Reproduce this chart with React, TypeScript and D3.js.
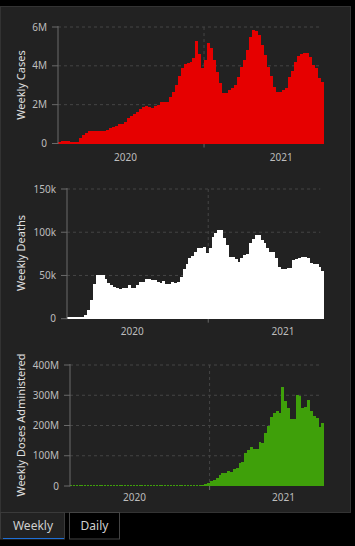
import React from "react";
import * as d3 from "d3";

// ---- data ----
const weekStart = Date.UTC(2020, 0, 25);
const weekCount = 89;
const weeks: Date[] = d3.range(weekCount).map((i) => d3.utcDay.offset(new Date(weekStart), i * 7));

// weekly cases (millions)
const casesM = [
  0.01, 0.12, 0.13, 0.12, 0.03, 0.03, 0.05, 0.28, 0.45, 0.55,
  0.62, 0.64, 0.64, 0.63, 0.64, 0.65, 0.7, 0.82, 0.85, 0.9,
  0.98, 1.02, 1.12, 1.3, 1.4, 1.5, 1.64, 1.8, 1.9, 1.92,
  1.9, 1.85, 1.95, 2.0, 2.15, 2.15, 2.16, 2.38, 2.65, 3.0,
  3.5, 3.9, 4.1, 4.15, 4.2, 4.4, 5.3, 4.6, 3.9, 4.3,
  5.2, 4.9, 4.3, 3.7, 3.1, 2.6, 2.62, 2.75, 2.84, 3.0,
  3.44, 3.95, 4.3, 4.8, 5.5, 5.85, 5.8, 5.6, 5.07, 4.56,
  3.95, 3.5, 2.9, 2.65, 2.65, 2.75, 2.84, 3.4, 3.75, 4.2,
  4.5, 4.6, 4.68, 4.68, 4.47, 4.04, 3.87, 3.36, 3.18,
];

// weekly deaths (thousands)
const deathsK = [
  0.5, 0.5, 2.2, 2.3, 2.3, 2.3, 3.9, 10, 22, 40,
  50, 51, 50, 46, 41, 39, 37, 35, 34, 35,
  35, 38.6, 36, 36, 39, 43, 43, 46, 46, 45,
  44.5, 42, 41, 44, 40.5, 40.5, 42, 41, 43, 48.6,
  58, 63, 70, 73, 77.6, 81.5, 82, 83.3, 75.7, 81.5,
  94, 99, 102.7, 102.7, 93, 85.3, 71, 71, 69, 66,
  70, 73.7, 75, 88, 92, 97, 97, 91, 87, 81.5,
  77.6, 77, 70, 60, 57, 57, 58.3, 58.3, 68, 68.7,
  70.6, 71, 71, 70, 64.8, 63, 63, 60, 55.5,
];

// weekly doses administered (millions)
const dosesM = [
  0, 0, 0, 0, 0, 0, 0, 0, 0, 0,
  0, 0, 0, 0, 0, 0, 0, 0, 0, 0,
  0, 0, 0, 0, 0, 0, 0, 0, 0, 0,
  0, 0, 0, 0, 0, 0, 0, 0, 0, 0,
  0, 0, 0, 0, 0, 0, 3, 7, 11, 16,
  21, 27, 36, 42, 42, 50, 47, 55, 58, 75,
  78, 108, 119, 130, 122, 121, 147, 141, 174, 199,
  229, 240, 248, 240, 328, 281, 259, 221, 221, 301,
  297, 258, 262, 283, 248, 233, 225, 195, 207,
];

const casesTicks = [0, 2, 4, 6];
const casesTickLabels = ["0", "2M", "4M", "6M"];
const deathsTicks = [0, 50, 100, 150];
const deathsTickLabels = ["0", "50k", "100k", "150k"];
const dosesTicks = [0, 100, 200, 300, 400];
const dosesTickLabels = ["0", "100M", "200M", "300M", "400M"];

const yearLabels = ["2020", "2021"];
const yearLabelDates = [new Date(Date.UTC(2020, 6, 1)), new Date(Date.UTC(2021, 6, 1))];
const gridDates = [new Date(Date.UTC(2021, 0, 1))];

const FONT = "'Segoe UI', 'Noto Sans', 'Open Sans', sans-serif";

type ChartProps = {
  values: number[];
  ticks: number[];
  tickLabels: string[];
  left: number;
  right: number;
  top: number;
  bottom: number;
  color: string;
  seam: string;
  title: string;
  titleY: number;
  labelY: number;
  dotted?: boolean;
};

function BarChart(p: ChartProps) {
  const x = d3
    .scaleUtc()
    .domain([weeks[0], d3.utcDay.offset(weeks[weeks.length - 1], 7)])
    .range([p.left, p.right]);
  const yMax = p.ticks[p.ticks.length - 1];
  const y = d3.scaleLinear().domain([0, yMax]).range([p.bottom, p.top]);
  const gridRight = p.right - 4;
  return (
    <g>
      {p.ticks.slice(1).map((t) => (
        <line
          key={"g" + t}
          x1={p.left}
          x2={gridRight}
          y1={y(t)}
          y2={y(t)}
          stroke="#454545"
          strokeWidth={1}
          strokeDasharray="3,3"
        />
      ))}
      {gridDates.map((d, i) => (
        <g key={"v" + i}>
          <line
            x1={x(d)}
            x2={x(d)}
            y1={p.top}
            y2={p.bottom}
            stroke="#454545"
            strokeWidth={1}
            strokeDasharray="3,3"
          />
          <line x1={x(d)} x2={x(d)} y1={p.bottom} y2={p.bottom + 4} stroke="#666" />
        </g>
      ))}
      <g shapeRendering="crispEdges">
        {p.values.map((v, i) => {
          const x0 = x(weeks[i]);
          const x1 = x(d3.utcDay.offset(weeks[i], 7));
          const h = Math.max(y(0) - y(v), 1.5);
          const zero = v === 0;
          return (
            <rect
              key={i}
              x={x0}
              y={y(0) - h}
              width={zero && p.dotted ? (x1 - x0) * 0.7 : x1 - x0}
              height={h}
              fill={p.color}
            />
          );
        })}
      </g>
      <line x1={p.left} x2={p.left} y1={p.top - 1} y2={p.bottom + 0.5} stroke="#6a6a6a" />
      {p.ticks.map((t, i) => (
        <g key={"t" + t}>
          <line x1={p.left - 6} x2={p.left} y1={y(t)} y2={y(t)} stroke="#6a6a6a" />
          <text
            x={p.left - 11}
            y={y(t)}
            dy="0.35em"
            textAnchor="end"
            fill="#bdbdbd"
            fontSize={10}
            fontFamily={FONT}
          >
            {p.tickLabels[i]}
          </text>
        </g>
      ))}
      {yearLabels.map((l, i) => (
        <text
          key={l}
          x={x(yearLabelDates[i])}
          y={p.labelY}
          dy="0.35em"
          textAnchor="middle"
          fill="#bdbdbd"
          fontSize={10}
          fontFamily={FONT}
        >
          {l}
        </text>
      ))}
      <text
        transform={`translate(21,${p.titleY}) rotate(-90)`}
        textAnchor="middle"
        dy="0.35em"
        fill="#e0e0e0"
        fontSize={11}
        fontFamily={FONT}
      >
        {p.title}
      </text>
    </g>
  );
}

export default function App() {
  return (
    <svg
      width={355}
      height={546}
      style={{ position: "absolute", left: 0, top: 0, display: "block" }}
    >
      <rect x={0} y={0} width={355} height={546} fill="#000" />
      <rect x={0.5} y={6.5} width={350} height={506} fill="#222" stroke="#333" />
      <BarChart
        values={casesM}
        ticks={casesTicks}
        tickLabels={casesTickLabels}
        left={58}
        right={324}
        top={27}
        bottom={143.5}
        color="#e60000"
        seam="#b00000"
        title="Weekly Cases"
        titleY={85}
        labelY={157}
      />
      <BarChart
        values={deathsK}
        ticks={deathsTicks}
        tickLabels={deathsTickLabels}
        left={67}
        right={324.3}
        top={189}
        bottom={318.7}
        color="#ffffff"
        seam="#bbbbbb"
        title="Weekly Deaths"
        titleY={253}
        labelY={331.5}
        dotted
      />
      <BarChart
        values={dosesM}
        ticks={dosesTicks}
        tickLabels={dosesTickLabels}
        left={70}
        right={324.3}
        top={365}
        bottom={486}
        color="#3fa00a"
        seam="#2f7d08"
        title="Weekly Doses Administered"
        titleY={425}
        labelY={497.5}
        dotted
      />
      <rect x={0.5} y={512.5} width={64} height={26.5} fill="#222" stroke="#3a3a3a" />
      <line x1={3} x2={64} y1={538.5} y2={538.5} stroke="#1f6fd6" strokeWidth={1.2} />
      <text x={33} y={526} dy="0.35em" textAnchor="middle" fill="#cfcfcf" fontSize={12} fontFamily={FONT}>
        Weekly
      </text>
      <rect x={69.5} y={512.5} width={50} height={26.5} fill="#000" stroke="#444" />
      <text x={94.5} y={526} dy="0.35em" textAnchor="middle" fill="#cfcfcf" fontSize={12} fontFamily={FONT}>
        Daily
      </text>
    </svg>
  );
}
